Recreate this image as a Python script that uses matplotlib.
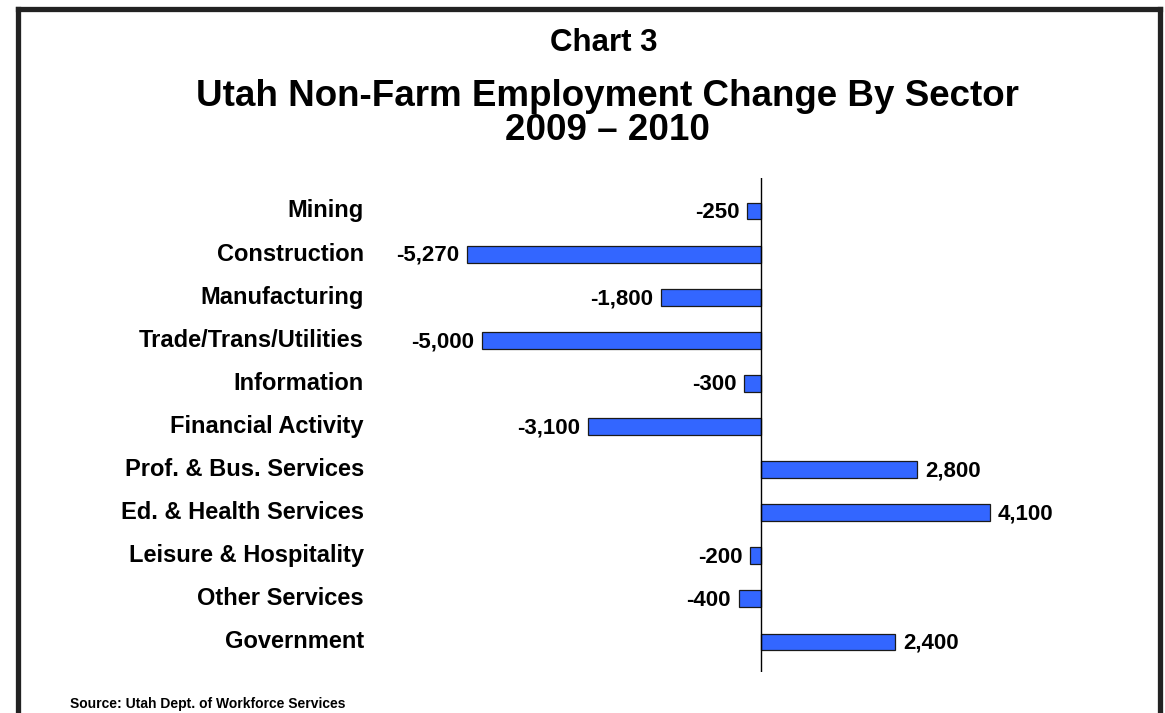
import matplotlib
matplotlib.use("Agg")
import matplotlib.pyplot as plt
from matplotlib.lines import Line2D

sectors = ["Mining", "Construction", "Manufacturing", "Trade/Trans/Utilities",
           "Information", "Financial Activity", "Prof. & Bus. Services",
           "Ed. & Health Services", "Leisure & Hospitality", "Other Services",
           "Government"]
changes = [-250, -5270, -1800, -5000, -300, -3100, 2800, 4100, -200, -400, 2400]
value_labels = ["-250", "-5,270", "-1,800", "-5,000", "-300", "-3,100",
                "2,800", "4,100", "-200", "-400", "2,400"]

plt.rcParams['font.family'] = ['Liberation Sans', 'DejaVu Sans']
plt.rcParams['font.weight'] = 'bold'

W, H = 1165, 713
fig = plt.figure(figsize=(W / 100, H / 100), dpi=100)
fig.patch.set_facecolor('white')

# axes placement in pixels
ax_l, ax_r, ax_t, ax_b = 300, 1100, 178, 672
ax = fig.add_axes([ax_l / W, 1 - ax_b / H, (ax_r - ax_l) / W, (ax_b - ax_t) / H])
px_per_unit = 294 / 5270.0
zero_px = 761
ax.set_xlim(-(zero_px - ax_l) / px_per_unit, (ax_r - zero_px) / px_per_unit)
n = len(sectors)
step = (642 - 211) / (n - 1)
ax.set_ylim((n - 1) + (ax_b - 642) / step, -(211 - ax_t) / step)

ypos = list(range(n))
ax.barh(ypos, changes, height=0.39, color='#3366ff', edgecolor='#1a1a1a',
        linewidth=0.9, zorder=2)
ax.axvline(0, color='black', linewidth=1.0, zorder=3)
ax.axis('off')

for y, v, lab in zip(ypos, changes, value_labels):
    if v < 0:
        ax.annotate(lab, (v, y), xytext=(-5.5, -1), textcoords='offset points',
                    ha='right', va='center', fontsize=16, fontweight='bold')
    else:
        ax.annotate(lab, (v, y), xytext=(6, -1), textcoords='offset points',
                    ha='left', va='center', fontsize=16, fontweight='bold')

lab_x = (364 - ax_l) / (ax_r - ax_l)
for y, s in zip(ypos, sectors):
    ax.text(lab_x, y, s, transform=ax.get_yaxis_transform(), ha='right',
            va='center', fontsize=17, fontweight='bold')

fig.text(604 / W, 1 - 43 / H, "Chart 3", ha='center', va='center',
         fontsize=22.5, fontweight='bold')
fig.text(607 / W, 1 - 97 / H, "Utah Non-Farm Employment Change By Sector",
         ha='center', va='center', fontsize=26.5, fontweight='bold')
fig.text(607 / W, 1 - 130 / H, "2009 \u2013 2010", ha='center', va='center',
         fontsize=26.5, fontweight='bold')
fig.text(70 / W, 1 - 704 / H, "Source: Utah Dept. of Workforce Services",
         ha='left', va='center', fontsize=10, fontweight='bold')

# frame border (top, left, right)
bc = '#222222'
fig.add_artist(Line2D([17.5 / W, 17.5 / W], [0, 1 - 8.5 / H], color=bc, linewidth=3.8,
                      transform=fig.transFigure, solid_capstyle='projecting'))
fig.add_artist(Line2D([1159.5 / W, 1159.5 / W], [0, 1 - 8.5 / H], color=bc, linewidth=3.8,
                      transform=fig.transFigure, solid_capstyle='projecting'))
fig.add_artist(Line2D([17.5 / W, 1159.5 / W], [1 - 8.5 / H, 1 - 8.5 / H], color=bc,
                      linewidth=3.8, transform=fig.transFigure, solid_capstyle='projecting'))

fig.savefig("out.png", dpi=100)
